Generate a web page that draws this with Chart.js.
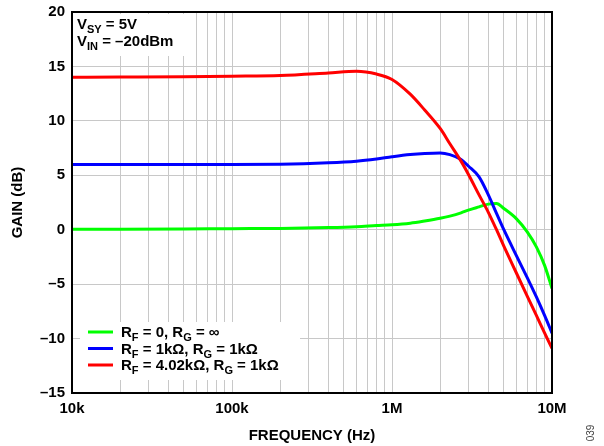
<!DOCTYPE html>
<html>
<head>
<meta charset="utf-8">
<script src="https://cdn.jsdelivr.net/npm/chart.js@4"></script>
<style>
  body { margin: 0; background: #fff; }
  #wrap { width: 604px; height: 446px; position: relative; }
</style>
</head>
<body>
<div id="wrap"><canvas id="gainChart"></canvas></div>
<script>
const freqHz = [1e4, 2e4, 5e4, 1e5, 2e5, 4e5, 6e5, 8e5, 1e6, 1.3e6, 1.6e6, 2e6, 2.3e6, 2.7e6, 3e6, 3.5e6, 4e6, 4.5e6, 5e6, 6e6, 7e6, 8e6, 9e6, 1e7];
const gainRf0 = [0.05, 0.05, 0.07, 0.1, 0.12, 0.2, 0.28, 0.38, 0.45, 0.6, 0.8, 1.05, 1.25, 1.55, 1.8, 2.1, 2.35, 2.4, 1.95, 1.0, -0.2, -1.6, -3.3, -5.4];
const gainRf1k = [5.98, 5.98, 6.0, 6.0, 6.02, 6.15, 6.3, 6.5, 6.7, 6.9, 7.0, 7.05, 6.9, 6.45, 5.85, 4.85, 3.2, 1.5, 0.0, -2.4, -4.4, -6.2, -7.9, -9.5];
const gainRf402k = [14.0, 14.02, 14.05, 14.1, 14.17, 14.4, 14.55, 14.3, 13.8, 12.45, 11.0, 9.3, 7.9, 6.3, 5.1, 3.2, 1.6, 0.0, -1.5, -4.0, -6.1, -7.9, -9.5, -10.9];

const decadeValues = [1e4, 1e5, 1e6, 1e7];
const decadeLabels = ['10k', '100k', '1M', '10M'];

const FONT = '"Liberation Sans", Arial, sans-serif';

// minor grid at 1..9 x each decade
const gridFreqs = [];
for (let d = 0; d < decadeValues.length - 1; d++) {
  for (let m = 1; m < 10; m++) gridFreqs.push(decadeValues[d] * m);
}
gridFreqs.push(decadeValues[decadeValues.length - 1]);

const toXY = (ys) => freqHz.map((f, i) => ({ x: f, y: ys[i] }));

// draw a line of text where some pieces are subscripts
function drawRich(ctx, x, y, parts) {
  for (const [txt, sub] of parts) {
    ctx.font = sub ? 'bold 11px ' + FONT : 'bold 15px ' + FONT;
    ctx.fillText(txt, x, sub ? y + 4 : y);
    x += ctx.measureText(txt).width;
  }
}

const legendRows = [
  { color: '#00ff00', parts: [['R'], ['F', 1], [' = 0, R'], ['G', 1], [' = ∞']] },
  { color: '#0000ff', parts: [['R'], ['F', 1], [' = 1kΩ, R'], ['G', 1], [' = 1kΩ']] },
  { color: '#ff0000', parts: [['R'], ['F', 1], [' = 4.02kΩ, R'], ['G', 1], [' = 1kΩ']] }
];

const decorPlugin = {
  id: 'decor',
  beforeDatasetsDraw(chart) {
    const { ctx, chartArea: a } = chart;
    ctx.save();
    ctx.fillStyle = '#fff';
    ctx.fillRect(a.left + 1, a.top + 2, 117, 42);
    ctx.fillRect(a.left + 8, a.bottom - 71, 220, 58);
    ctx.restore();
  },
  afterDraw(chart) {
    const { ctx, chartArea: a } = chart;
    ctx.save();
    ctx.strokeStyle = '#000';
    ctx.lineWidth = 2;
    ctx.strokeRect(a.left, a.top, a.right - a.left, a.bottom - a.top);

    ctx.fillStyle = '#000';
    ctx.textBaseline = 'alphabetic';
    drawRich(ctx, a.left + 5, a.top + 17, [['V'], ['SY', 1], [' = 5V']]);
    drawRich(ctx, a.left + 5, a.top + 34, [['V'], ['IN', 1], [' = –20dBm']]);

    legendRows.forEach((row, i) => {
      const yc = a.bottom - 61 + i * 16.5;
      ctx.strokeStyle = row.color;
      ctx.lineWidth = 3;
      ctx.beginPath();
      ctx.moveTo(a.left + 16, yc);
      ctx.lineTo(a.left + 41, yc);
      ctx.stroke();
      ctx.fillStyle = '#000';
      drawRich(ctx, a.left + 49, yc + 5, row.parts);
    });

    ctx.translate(594, 433);
    ctx.rotate(-Math.PI / 2);
    ctx.font = '10px ' + FONT;
    ctx.fillStyle = '#444';
    ctx.textAlign = 'center';
    ctx.fillText('039', 0, 0);
    ctx.restore();
  }
};

const lineStyle = { borderWidth: 3, pointRadius: 0, fill: false, cubicInterpolationMode: 'monotone' };

new Chart(document.getElementById('gainChart').getContext('2d'), {
  type: 'line',
  data: {
    datasets: [
      { ...lineStyle, label: 'RF = 0, RG = ∞', data: toXY(gainRf0), borderColor: '#00ff00', order: 3 },
      { ...lineStyle, label: 'RF = 1kΩ, RG = 1kΩ', data: toXY(gainRf1k), borderColor: '#0000ff', order: 2 },
      { ...lineStyle, label: 'RF = 4.02kΩ, RG = 1kΩ', data: toXY(gainRf402k), borderColor: '#ff0000', order: 1 }
    ]
  },
  options: {
    responsive: true,
    maintainAspectRatio: false,
    animation: false,
    layout: { padding: { top: 12, right: 52, left: 0, bottom: 0 } },
    plugins: { legend: { display: false }, tooltip: { enabled: false } },
    scales: {
      x: {
        type: 'logarithmic',
        min: 1e4,
        max: 1e7,
        afterBuildTicks: (scale) => { scale.ticks = gridFreqs.map(v => ({ value: v })); },
        afterFit: (scale) => { scale.height = 53; },
        grid: { color: '#c8c8c8', lineWidth: 1, drawTicks: false },
        border: { display: false },
        ticks: {
          autoSkip: false,
          maxRotation: 0,
          padding: 7,
          color: '#000',
          font: { family: FONT, size: 15, weight: 'bold' },
          callback: (v) => {
            const i = decadeValues.indexOf(v);
            return i >= 0 ? decadeLabels[i] : '';
          }
        },
        title: {
          display: true,
          text: 'FREQUENCY (Hz)',
          color: '#000',
          font: { family: FONT, size: 15, weight: 'bold' },
          padding: { top: 0, bottom: 1 }
        }
      },
      y: {
        min: -15,
        max: 20,
        afterFit: (scale) => {
          scale.width = 72;
          scale.paddingTop = 0;
          scale.paddingBottom = 0;
        },
        grid: { color: '#c8c8c8', lineWidth: 1, drawTicks: false },
        border: { display: false },
        ticks: {
          stepSize: 5,
          padding: 7,
          color: '#000',
          font: { family: FONT, size: 15, weight: 'bold' },
          callback: (v) => (v < 0 ? '–' + Math.abs(v) : String(v))
        },
        title: {
          display: true,
          text: 'GAIN (dB)',
          color: '#000',
          font: { family: FONT, size: 15, weight: 'bold' },
          padding: { top: 9, bottom: 0 }
        }
      }
    }
  },
  plugins: [decorPlugin]
});
</script>
</body>
</html>
